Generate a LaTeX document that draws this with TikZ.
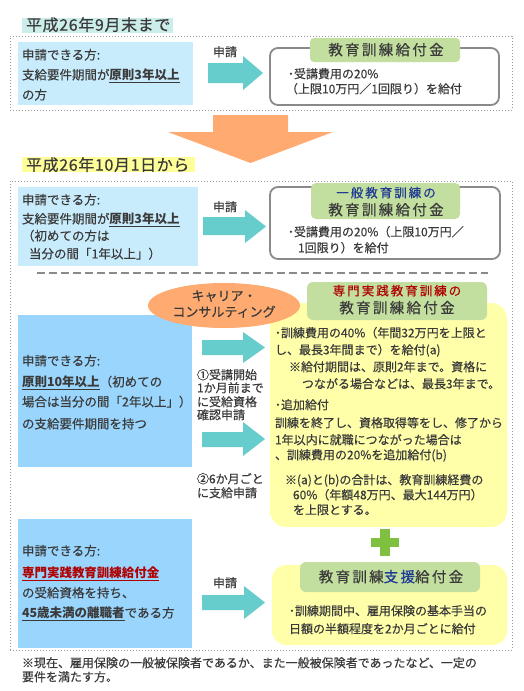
\documentclass[tikz,border=0pt]{standalone}
\usepackage{fontspec}
\setmainfont{Noto Sans CJK JP}[UprightFeatures={FakeBold=0.35}]
\newfontfamily\lblfont{Noto Sans CJK JP}[LetterSpace=16,FakeBold=0.35]
\newfontfamily\ttlfont{Noto Sans CJK JP}[LetterSpace=4,FakeBold=0.35]
\usetikzlibrary{shapes.geometric}
\definecolor{tc}{HTML}{3A3A3A}
\definecolor{bluea}{HTML}{C9ECFC}
\definecolor{blueb}{HTML}{99D5FD}
\definecolor{tealc}{HTML}{66CCCC}
\definecolor{orangec}{HTML}{FFAA70}
\definecolor{greenl}{HTML}{C2DF9F}
\definecolor{yellowb}{HTML}{FFFFAA}
\definecolor{hlteal}{HTML}{CCEEEB}
\definecolor{hlyel}{HTML}{FFFF99}
\definecolor{plusc}{HTML}{80C040}
\definecolor{grayb}{HTML}{8A8A8A}
\definecolor{dotc}{HTML}{999999}
\definecolor{redc}{HTML}{B00000}
\definecolor{bluet}{HTML}{1F3A93}
\newsavebox\ulbox
\newcommand\myul[1]{\sbox\ulbox{#1}\rlap{\lower2.2pt\hbox{\vrule width\wd\ulbox height 0pt depth 1.2pt}}\usebox\ulbox}
\begin{document}
\begin{tikzpicture}[x=1pt,y=-1pt,
  tx/.style={anchor=west, inner sep=0pt, outer sep=0pt, text=tc, font=\fontsize{12}{14}\selectfont, text height=10pt, text depth=1.4pt},
  txl/.style={anchor=west, inner sep=0pt, outer sep=0pt, text=tc, font=\fontsize{12.5}{14}\selectfont, text height=10.4pt, text depth=1.5pt},
  txe/.style={anchor=center, inner sep=0pt, outer sep=0pt, text=tc, font=\fontsize{13}{15}\selectfont, text height=10.8pt, text depth=1.5pt},
  lbl/.style={anchor=center, inner sep=0pt, outer sep=0pt, text=tc, font=\lblfont\fontsize{14.5}{16}\selectfont, text height=12pt, text depth=1.7pt},
  lbls/.style={anchor=center, inner sep=0pt, outer sep=0pt, font=\lblfont\fontsize{12.5}{14}\selectfont, text height=10.4pt, text depth=1.5pt},
  ttl/.style={anchor=west, inner sep=0pt, outer sep=0pt, text=tc, font=\ttlfont\fontsize{16}{18}\selectfont, text height=13.3pt, text depth=1.9pt},
  box/.style={anchor=north west, inner sep=0pt, outer sep=0pt, draw=none},
  dotbox/.style={box, draw=dotc, line width=0.8pt, dash pattern=on 1pt off 2pt},
  graybox/.style={box, draw=grayb, line width=1.8pt, rounded corners=8pt, fill=white},
  ybox/.style={box, fill=yellowb, rounded corners=16pt},
  gbox/.style={box, fill=greenl, rounded corners=5pt},
  tarrow/.style={fill=tealc},
]
\useasboundingbox (0,0) rectangle (523,691);
\fill[white] (0,0) rectangle (523,691);

% frames
\node[dotbox, minimum width=502, minimum height=74] (f1) at (10,36) {};
\node[dotbox, minimum width=502, minimum height=469] (f2) at (10,181) {};

% titles
\node[box, fill=hlteal, minimum width=151, minimum height=15] (h1) at (22,18) {};
\node[box, fill=hlyel, minimum width=173, minimum height=15] (h2) at (22,157) {};
\node[ttl] (T1) at (26,25) {平成26年9月末まで};
\node[ttl] (T2) at (26,165) {平成26年10月1日から};

% blue boxes
\node[box, fill=bluea, minimum width=175, minimum height=63] (b1) at (18,42) {};
\node[box, fill=bluea, minimum width=180, minimum height=79] (b2) at (18,187) {};
\node[box, fill=blueb, minimum width=174, minimum height=152] (b3) at (18,315) {};
\node[box, fill=blueb, minimum width=174, minimum height=129] (b4) at (18,519) {};

% right boxes
\node[graybox, minimum width=229, minimum height=57] (r1) at (270,48) {};
\node[graybox, minimum width=230, minimum height=72] (r2) at (270,187) {};
\node[ybox, minimum width=237, minimum height=224] (y3) at (270,303) {};
\node[ybox, rounded corners=14pt, minimum width=235, minimum height=80] (y4) at (272,565) {};

% ellipse
\node[ellipse, fill=orangec, minimum width=152, minimum height=45, inner sep=0pt] (el) at (224,305.5) {};

% green labels
\node[gbox, rounded corners=4pt, minimum width=150, minimum height=24] (g1) at (310,38) {};
\node[gbox, minimum width=149, minimum height=36] (g2) at (311,183) {};
\node[gbox, rounded corners=6pt, minimum width=180, minimum height=38] (g3) at (307,282) {};
\node[gbox, rounded corners=6pt, minimum width=180, minimum height=30] (g4) at (300,562) {};

% orange arrow
\fill[orangec] (213,115) -- (288,115) -- (288,132) -- (333,132) -- (250.5,163) -- (168,132) -- (213,132) -- cycle;

% teal arrows
\fill[tarrow] (208,63) -- (243,63) -- (243,56) -- (263,73) -- (243,90) -- (243,83) -- (208,83) -- cycle;
\fill[tarrow] (203,217) -- (245,217) -- (245,210) -- (266,226.5) -- (245,243) -- (245,235) -- (203,235) -- cycle;
\fill[tarrow] (202,340) -- (243,340) -- (243,332) -- (265,347.5) -- (243,363) -- (243,355) -- (202,355) -- cycle;
\fill[tarrow] (202,432) -- (243,432) -- (243,422) -- (265,439) -- (243,456) -- (243,447) -- (202,447) -- cycle;
\fill[tarrow] (202,595) -- (244,595) -- (244,586) -- (265,602.5) -- (244,619) -- (244,610) -- (202,610) -- cycle;

% dashed separator
\draw[grayb, line width=2pt, dash pattern=on 8pt off 4pt] (37,273) -- (488,273);

% plus
\fill[plusc] (380,529) rectangle (390,556);
\fill[plusc] (371,538) rectangle (399,547);

% ---- texts: section 1
\node[txl] (s1a) at (22,55) {申請できる方:};
\node[txl] (s1b) at (22,75) {支給要件期間が\myul{\bfseries 原則3年以上}};
\node[txl] (s1c) at (22,95) {の方};
\node[tx] (q1) at (213,52) {申請};
\node[lbl] (l1) at (386,50) {教育訓練給付金};
\node[tx] (p1a) at (288,74) {･受講費用の20\%};
\node[tx] (p1b) at (286,89) {（上限10万円／1回限り）を給付};

% ---- section 2
\node[txl] (s2a) at (22,200) {申請できる方:};
\node[txl] (s2b) at (22,219) {支給要件期間が\myul{\bfseries 原則3年以上}};
\node[txl] (s2c) at (22,236) {（初めての方は};
\node[txl] (s2d) at (29,254) {当分の間「1年以上」）};
\node[tx] (q2) at (213,207) {申請};
\node[lbls, text=bluet] (l2a) at (386,193) {一般教育訓練の};
\node[lbl] (l2b) at (386,210) {教育訓練給付金};
\node[tx] (p2a) at (288,232) {･受講費用の20\%（上限10万円／};
\node[tx] (p2b) at (298,248) {1回限り）を給付};

% ---- section 3
\node[txe] (e1) at (224,296) {キャリア・};
\node[txe] (e2) at (224,312) {コンサルティング};
\node[lbls, text=redc] (l3a) at (397,291) {専門実践教育訓練の};
\node[lbl] (l3b) at (397,308) {教育訓練給付金};
\node[txl] (s3a) at (22,361) {申請できる方:};
\node[txl] (s3b) at (22,382) {\myul{\bfseries 原則10年以上}（初めての};
\node[txl] (s3c) at (22,402) {場合は当分の間「2年以上」）};
\node[txl] (s3d) at (22,424) {の支給要件期間を持つ};
\node[tx] (n1a) at (197,375) {①受講開始};
\node[tx] (n1b) at (197,388) {1か月前まで};
\node[tx] (n1c) at (197,402) {に受給資格};
\node[tx] (n1d) at (197,415) {確認申請};
\node[tx] (n2a) at (197,479) {②6か月ごと};
\node[tx] (n2b) at (197,493) {に支給申請};
\node[tx] (y1) at (275,333) {･訓練費用の40\%（年間32万円を上限と};
\node[tx] (y2) at (275,350) {し、最長3年間まで）を給付(a)};
\node[tx] (y3t) at (289,367) {※給付期間は、原則2年まで。資格に};
\node[tx] (y4t) at (302,384) {つながる場合などは、最長3年まで。};
\node[tx] (y5) at (275,405) {･追加給付};
\node[tx] (y6) at (275,423) {訓練を終了し、資格取得等をし、修了から};
\node[tx] (y7) at (275,440) {1年以内に就職につながった場合は};
\node[tx] (y8) at (275,455) {、訓練費用の20\%を追加給付(b)};
\node[tx] (y9) at (285,480) {※(a)と(b)の合計は、教育訓練経費の};
\node[tx] (y10) at (293,495) {60\%（年額48万円、最大144万円）};
\node[tx] (y11) at (293,510) {を上限とする。};

% ---- section 4
\node[txl] (s4a) at (22,551) {申請できる方:};
\node[txl, text=redc] (s4b) at (22,573) {\myul{\bfseries 専門実践教育訓練給付金}};
\node[txl] (s4c) at (22,593) {の受給資格を持ち、};
\node[txl] (s4d) at (22,613) {\myul{\bfseries 45歳未満の離職者}である方};
\node[tx] (q4) at (213,583) {申請};
\node[lbl] (l4) at (391,577) {教育訓練\textcolor{bluet}{支援}給付金};
\node[tx] (p4a) at (289,611) {･訓練期間中、雇用保険の基本手当の};
\node[tx] (p4b) at (289,629) {日額の半額程度を2か月ごとに給付};

% footnote
\node[tx] (fn1) at (22,663) {※現在、雇用保険の一般被保険者であるか、また一般被保険者であったなど、一定の};
\node[tx] (fn2) at (22,677) {要件を満たす方。};
\end{tikzpicture}
\end{document}
